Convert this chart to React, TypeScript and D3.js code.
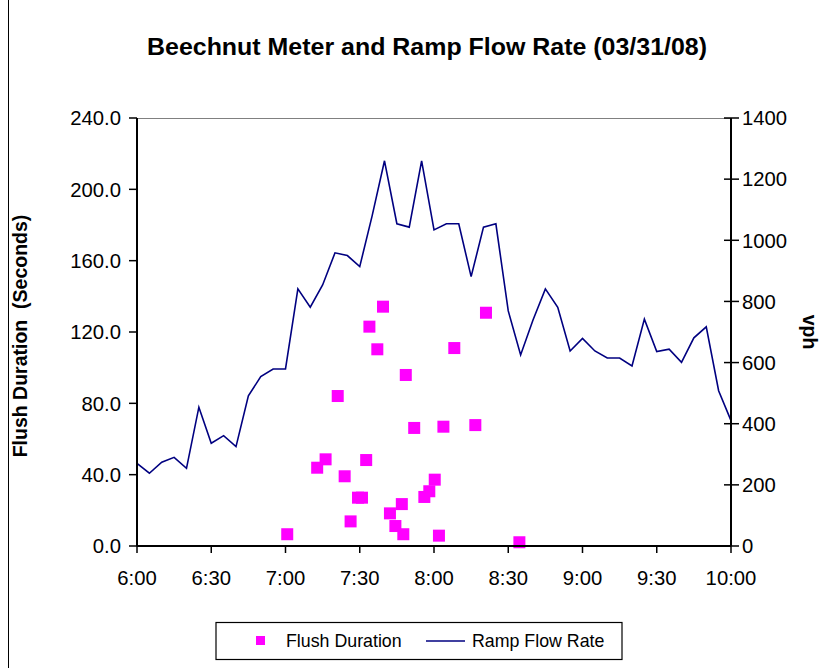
import React from "react";
import * as d3 from "d3";

const flowTimes = [
  "6:00","6:05","6:10","6:15","6:20","6:25","6:30","6:35","6:40","6:45","6:50","6:55",
  "7:00","7:05","7:10","7:15","7:20","7:25","7:30","7:35","7:40","7:45","7:50","7:55",
  "8:00","8:05","8:10","8:15","8:20","8:25","8:30","8:35","8:40","8:45","8:50","8:55",
  "9:00","9:05","9:10","9:15","9:20","9:25","9:30","9:35","9:40","9:45","9:50","9:55","10:00",
];
const flowRate = [
  270, 238, 274, 290, 254, 454, 336, 361, 325, 491, 554, 579,
  579, 841, 781, 854, 959, 950, 914, 1080, 1260, 1054, 1043, 1260,
  1034, 1054, 1054, 881, 1043, 1054, 769, 625, 739, 841, 781, 638,
  679, 638, 615, 615, 589, 742, 636, 644, 601, 681, 717, 508, 410,
];

const flushTimes = [
  "7:00:42","7:12:48","7:16:12","7:21:06","7:23:54","7:26:18","7:29:18","7:30:54","7:32:36",
  "7:33:54","7:37:06","7:39:24","7:42:12","7:44:24","7:47:00","7:47:36","7:48:36","7:52:00",
  "7:56:06","7:58:06","8:00:18","8:02:00","8:03:48","8:08:12","8:16:42","8:21:00","8:34:30",
];
const flushDuration = [
  6.6, 43.9, 48.6, 84.1, 39.1, 13.8, 27.1, 27.1, 48.2,
  123.0, 110.3, 134.2, 18.3, 11.2, 23.5, 6.6, 95.9, 66.2,
  27.5, 30.7, 37.2, 5.8, 66.9, 111.0, 67.8, 130.8, 2.1,
];

const xTickLabels = ["6:00","6:30","7:00","7:30","8:00","8:30","9:00","9:30","10:00"];
const leftTicks = [0, 40, 80, 120, 160, 200, 240];
const rightTicks = [0, 200, 400, 600, 800, 1000, 1200, 1400];

const toMin = (s: string) => {
  const p = s.split(":").map(Number);
  return p[0] * 60 + p[1] + (p[2] || 0) / 60;
};

const FONT = "'Liberation Sans', Arial, sans-serif";

export default function App() {
  const W = 833, H = 668;
  const L = 137, R = 731, T = 118, B = 546;
  const x = d3.scaleLinear().domain([360, 600]).range([L, R]);
  const yL = d3.scaleLinear().domain([0, 240]).range([B, T]);
  const yR = d3.scaleLinear().domain([0, 1400]).range([B, T]);

  const line = d3
    .line<number>()
    .x((_, i) => x(toMin(flowTimes[i])))
    .y((d) => yR(d));

  const sq = 12;
  const tickFs = 20.3;

  return (
    <svg width={W} height={H} style={{ position: "absolute", left: 0, top: 0, background: "#fff" }} fontFamily={FONT}>
      <rect x={0} y={0} width={W} height={H} fill="#fff" />
      <line x1={8.5} y1={0} x2={8.5} y2={H} stroke="#000" strokeWidth={1} />
      <text x={427} y={55} textAnchor="middle" fontSize={23.5} fontWeight="bold" textLength={560} lengthAdjust="spacingAndGlyphs">
        Beechnut Meter and Ramp Flow Rate (03/31/08)
      </text>

      {/* plot area top border */}
      <line x1={L} y1={T + 0.5} x2={R} y2={T + 0.5} stroke="#808080" strokeWidth={1} />

      {/* line series */}
      <path d={line(flowRate) || ""} fill="none" stroke="#000080" strokeWidth={1.6} />

      {/* scatter */}
      {flushDuration.map((v, i) => (
        <rect key={i} x={x(toMin(flushTimes[i])) - sq / 2} y={yL(v) - sq / 2} width={sq} height={sq} fill="#FF00FF" />
      ))}

      {/* left axis */}
      <line x1={L} y1={T} x2={L} y2={B} stroke="#000" strokeWidth={2} />
      {leftTicks.map((t) => (
        <g key={t}>
          <line x1={L - 8} x2={L} y1={yL(t)} y2={yL(t)} stroke="#000" strokeWidth={1.5} />
          <text x={L - 16} y={yL(t)} dy="0.36em" textAnchor="end" fontSize={tickFs}>
            {t.toFixed(1)}
          </text>
        </g>
      ))}
      <text
        transform={`translate(27,${(T + B) / 2 + 4}) rotate(-90)`}
        textAnchor="middle"
        fontSize={19.5}
        fontWeight="bold"
        style={{ whiteSpace: "pre" }}
      >
        {"Flush Duration  (Seconds)"}
      </text>

      {/* right axis */}
      <line x1={R} y1={T} x2={R} y2={B} stroke="#000" strokeWidth={2} />
      {rightTicks.map((t) => (
        <g key={t}>
          <line x1={R - 7} x2={R + 8} y1={yR(t)} y2={yR(t)} stroke="#000" strokeWidth={1.5} />
          <text x={R + 11} y={yR(t)} dy="0.36em" textAnchor="start" fontSize={tickFs}>
            {t}
          </text>
        </g>
      ))}
      <text transform={`translate(803,${(T + B) / 2}) rotate(90)`} textAnchor="middle" fontSize={19.5} fontWeight="bold">
        vph
      </text>

      {/* bottom axis */}
      <line x1={L} y1={B} x2={R} y2={B} stroke="#000" strokeWidth={2} />
      {xTickLabels.map((s) => (
        <g key={s}>
          <line x1={x(toMin(s))} x2={x(toMin(s))} y1={B} y2={B + 7} stroke="#000" strokeWidth={1.5} />
          <text x={x(toMin(s))} y={B + 39} textAnchor="middle" fontSize={tickFs}>
            {s}
          </text>
        </g>
      ))}

      {/* legend */}
      <rect x={216} y={622.5} width={406} height={37} fill="#fff" stroke="#000" strokeWidth={1.2} />
      <rect x={256} y={636} width={9} height={9} fill="#FF00FF" />
      <text x={286} y={641} dy="0.36em" fontSize={17.8}>Flush Duration</text>
      <line x1={426} x2={465} y1={641} y2={641} stroke="#000080" strokeWidth={1.6} />
      <text x={472} y={641} dy="0.36em" fontSize={17.8}>Ramp Flow Rate</text>
    </svg>
  );
}
